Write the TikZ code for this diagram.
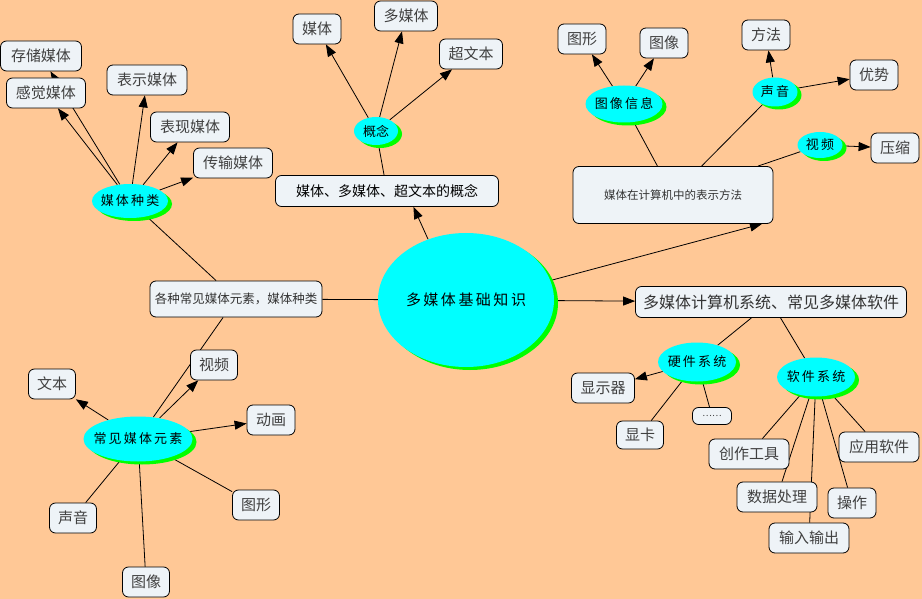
\documentclass[tikz,border=0pt]{standalone}
\usepackage{fontspec}
\setmainfont{Noto Sans CJK SC}
\usetikzlibrary{shapes.geometric, shadows, arrows.meta}
\definecolor{peach}{RGB}{255,200,150}
\definecolor{boxfill}{RGB}{238,243,247}
\definecolor{ovalfill}{RGB}{0,255,255}
\definecolor{ovalshade}{RGB}{0,255,0}
\pgfdeclarelayer{lines}
\pgfsetlayers{lines,main}
\tikzset{
  leaf/.style={draw, line width=0.8pt, rounded corners=6pt, fill=boxfill, minimum height=30pt, inner sep=4pt, text=black!75, font=\fontsize{15}{15}\selectfont},
  topic/.style={draw, line width=0.8pt, rounded corners=6pt, fill=boxfill, inner sep=2pt, text=black!80},
  oval/.style={ellipse, fill=ovalfill, inner sep=0pt, inner xsep=-8pt, font=\fontsize{13}{13}\selectfont, general shadow={fill=ovalshade, shadow xshift=4pt, shadow yshift=-3pt}},
  link/.style={line width=0.8pt},
  arr/.style={link, -{Triangle[length=12pt,width=9pt]}}
}
\begin{document}
\begin{tikzpicture}[x=1pt, y=-1pt]
\useasboundingbox (0,0) rectangle (922,599);
% centre
\node[oval, minimum width=176pt, minimum height=134pt, font=\fontsize{15}{15}\selectfont] (root) at (466,300) {多\,媒\,体\,基\,础\,知\,识};
\node[topic, minimum width=172pt, minimum height=36pt, font=\fontsize{12.5}{12.5}\selectfont] (kinds) at (236,299) {各种常见媒体元素，媒体种类};
\node[topic, minimum width=223pt, minimum height=31pt, text=black, font=\fontsize{14}{14}\selectfont] (concept) at (387,191) {媒体、多媒体、超文本的概念};
\node[topic, minimum width=200pt, minimum height=57pt, font=\fontsize{11.5}{11.5}\selectfont] (repr) at (673,195) {媒体在计算机中的表示方法};
\node[topic, minimum width=271pt, minimum height=31pt, font=\fontsize{16}{16}\selectfont] (system) at (771,302) {多媒体计算机系统、常见多媒体软件};
% media kinds
\node[oval, minimum width=76pt, minimum height=34pt] (mtype) at (130,201) {媒\,体\,种\,类};
\node[leaf, minimum width=81pt] (store) at (41,56) {存储媒体};
\node[leaf, minimum width=79pt] (sense) at (46,93) {感觉媒体};
\node[leaf, minimum width=80pt] (show) at (147,80) {表示媒体};
\node[leaf, minimum width=79pt] (present) at (190,127) {表现媒体};
\node[leaf, minimum width=79pt] (trans) at (233,163) {传输媒体};
% concepts
\node[oval, minimum width=44pt, minimum height=28pt] (gainian) at (376,131) {概念};
\node[leaf, minimum width=48pt] (media) at (317,29) {媒体};
\node[leaf, minimum width=63pt] (multi) at (406,16) {多媒体};
\node[leaf, minimum width=63pt] (hyper) at (471,54) {超文本};
% representation
\node[oval, minimum width=77pt, minimum height=37pt] (imginfo) at (624,104) {图\,像\,信\,息};
\node[oval, minimum width=45pt, minimum height=29pt] (sound) at (775,92) {声\,音};
\node[oval, minimum width=45pt, minimum height=26pt] (video) at (820,145) {视\,频};
\node[leaf, minimum width=48pt] (graphA) at (582,39) {图形};
\node[leaf, minimum width=48pt] (imageA) at (664,43) {图像};
\node[leaf, minimum width=48pt] (method) at (766,35) {方法};
\node[leaf, minimum width=48pt] (adv) at (874,75) {优势};
\node[leaf, minimum width=48pt] (compress) at (895,148) {压缩};
% common elements
\node[oval, minimum width=109pt, minimum height=45pt] (elem) at (138,439) {常\,见\,媒\,体\,元\,素};
\node[leaf, minimum width=47pt] (videoB) at (214,365) {视频};
\node[leaf, minimum width=47pt] (text) at (52,384) {文本};
\node[leaf, minimum width=48pt] (anim) at (271,420) {动画};
\node[leaf, minimum width=47pt] (graphB) at (256,505) {图形};
\node[leaf, minimum width=47pt] (soundB) at (73,518) {声音};
\node[leaf, minimum width=47pt] (imageB) at (146,582) {图像};
% hardware and software
\node[oval, minimum width=78pt, minimum height=39pt] (hard) at (697,362) {硬\,件\,系\,统};
\node[oval, minimum width=78pt, minimum height=39pt] (soft) at (816,377) {软\,件\,系\,统};
\node[leaf, minimum width=63pt] (screen) at (603,388) {显示器};
\node[leaf, minimum width=47pt, minimum height=28pt] (card) at (640,435) {显卡};
\node[leaf, minimum width=39pt, minimum height=17pt, inner sep=1pt, font=\fontsize{9}{9}\selectfont] (more) at (712,416) {……};
\node[leaf, minimum width=80pt] (author) at (749,454) {创作工具};
\node[leaf, minimum width=80pt] (apps) at (879,447) {应用软件};
\node[leaf, minimum width=80pt] (data) at (777,497) {数据处理};
\node[leaf, minimum width=48pt] (oper) at (852,503) {操作};
\node[leaf, minimum width=80pt] (io) at (809,538) {输入输出};
\begin{pgfonlayer}{lines}
\fill[peach] (0,0) rectangle (922,599);
\draw[link] (kinds) -- (root);
\draw[arr] (root.122) -- (concept.-31);
\draw[arr] (root.13) -- (repr.-18);
\draw[arr] (root) -- (system);
\draw[link] (kinds) -- (mtype);
\draw[link] (kinds) -- (elem);
\draw[arr] (mtype) -- (store);
\draw[arr] (mtype) -- (sense);
\draw[arr] (mtype) -- (show);
\draw[arr] (mtype) -- (present);
\draw[arr] (mtype) -- (trans);
\draw[link] (concept) -- (gainian);
\draw[arr] (gainian) -- (media);
\draw[arr] (gainian) -- (multi);
\draw[arr] (gainian) -- (hyper);
\draw[link] (repr) -- (imginfo);
\draw[link] (repr) -- (sound);
\draw[link] (repr) -- (video);
\draw[arr] (imginfo) -- (graphA);
\draw[arr] (imginfo) -- (imageA);
\draw[arr] (sound) -- (method);
\draw[arr] (sound) -- (adv);
\draw[arr] (video) -- (compress);
\draw[arr] (elem) -- (videoB);
\draw[arr] (elem) -- (text);
\draw[arr] (elem) -- (anim);
\draw[link] (elem) -- (graphB);
\draw[link] (elem) -- (soundB);
\draw[link] (elem) -- (imageB);
\draw[link] (system) -- (hard);
\draw[link] (system) -- (soft);
\draw[arr] (hard) -- (screen);
\draw[link] (hard) -- (card);
\draw[link] (hard) -- (more);
\draw[link] (soft) -- (author);
\draw[link] (soft) -- (data);
\draw[link] (soft) -- (io);
\draw[link] (soft) -- (oper);
\draw[link] (soft) -- (apps);
\end{pgfonlayer}
\end{tikzpicture}
\end{document}
